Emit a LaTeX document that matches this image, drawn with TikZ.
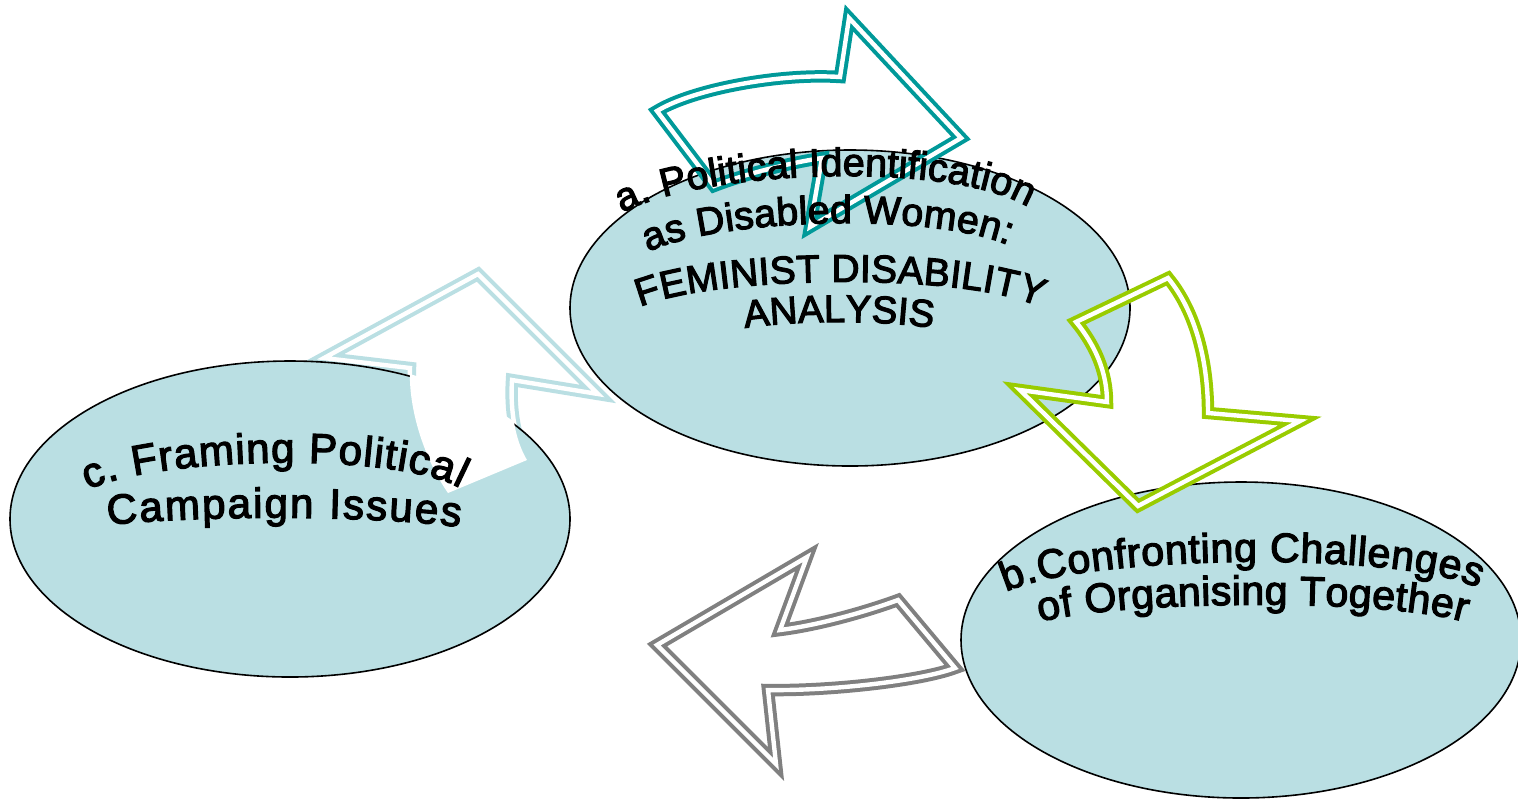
\documentclass[tikz,border=0pt]{standalone}
\usepackage{fontspec}
\setmainfont{Liberation Sans}
\newfontfamily\lblface[FakeBold=3]{Liberation Sans}
\usepackage{xcolor}
\usepackage{tikz}
\usetikzlibrary{shapes.geometric,decorations.text}
\definecolor{ovalblue}{HTML}{BADFE3}
\definecolor{ringteal}{HTML}{009999}
\definecolor{ringgreen}{HTML}{99CC00}
\definecolor{ringgray}{HTML}{808080}
\newcommand\lblfont[1]{\lblface\fontsize{#1}{21}\selectfont}

\begin{document}
\begin{tikzpicture}[x=0.5pt, y=-0.5pt,
      oval/.style={ellipse, draw=black, line width=0.8pt, fill=ovalblue,
                   minimum width=280pt, minimum height=158pt, inner sep=0pt},
      ring/.style={draw=#1, line width=2pt, double=white, double distance=2.2pt, line join=miter},
      lbl/.style 2 args={decorate, decoration={text along path, text align=fit to path, text={|\lblfont{#1}|#2}}}]
    \useasboundingbox (0,0) rectangle (1518,800);
    \draw[ring=ovalblue, fill=white] (448,493) .. controls (425,460) and (408,410) .. (410,368) -- (324,358) -- (478,274)
        -- (598,394) -- (512,380) .. controls (510,410) and (515,440) .. (527,460) -- cycle;
    \node[oval] (analysis) at (850,308) {};
    \node[oval] (organising) at (1241,640) {};
    \node[oval] (campaign) at (290,519) {};
    % the up arrow stays white where it runs over the campaign oval
    \begin{scope}
      \clip (campaign.center) ellipse [x radius=141pt, y radius=80pt];
      \fill[white] (448,493) .. controls (425,460) and (408,410) .. (410,368) -- (324,358) -- (478,274)
          -- (598,394) -- (512,380) .. controls (510,410) and (515,440) .. (527,460) -- cycle;
    \end{scope}
    \draw[ring=ringteal] (657,111) .. controls (693,89) and (781,73) .. (840,77) -- (849,18) -- (961,138)
        -- (810,227) -- (822,158) .. controls (788,163) and (742,175) .. (714,186) -- cycle;
    \draw[ring=ringgreen] (1168,278) -- (1076,322) .. controls (1095,345) and (1107,372) .. (1107,402) -- (1020,390)
        -- (1138,506) -- (1300,421) -- (1208,413) .. controls (1208,362) and (1196,312) .. cycle;
    \draw[ring=ringgray] (955,668) .. controls (920,681) and (830,691) .. (768,690) -- (776,764) -- (657,645)
        -- (807,557) -- (780,630) .. controls (820,625) and (868,611) .. (898,600) -- cycle;
    \path[lbl={19.7}{a. Political Identification}] (622,213) .. controls (700,170) and (950,160) .. (1028,207);
    \path[lbl={19.6}{as Disabled Women:}] (648,252) .. controls (720,218) and (930,212) .. (1008,245);
    \path[lbl={19.4}{FEMINIST DISABILITY}] (640,307) .. controls (715,275) and (965,272) .. (1040,307);
    \path[lbl={19.2}{ANALYSIS}] (745,328) .. controls (800,320) and (880,320) .. (933,328);
    \path[lbl={21}{c. Framing Political}] (88,490) .. controls (150,458) and (390,450) .. (460,488);
    \path[lbl={21}{Campaign Issues}] (108,525) .. controls (200,515) and (370,515) .. (460,527);
    \path[lbl={20.5}{b.Confronting Challenges}] (1006,592) .. controls (1080,555) and (1400,550) .. (1478,588);
    \path[lbl={20.5}{of Organising Together}] (1040,622) .. controls (1120,600) and (1385,598) .. (1465,622);
\end{tikzpicture}
\end{document}
